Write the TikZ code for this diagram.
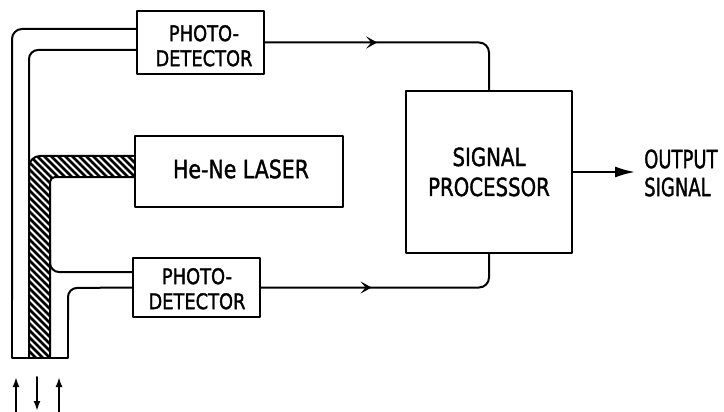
\documentclass[tikz,border=0pt]{standalone}
\usepackage{fontspec}
\newfontfamily\lblfont[FakeBold=1.6]{DejaVu Sans}
\usetikzlibrary{arrows.meta,decorations.markings}
\newcommand\cnd[2]{\scalebox{#1}[1]{#2}}
\tikzset{
  ln/.style={line width=2pt, line cap=round, line join=round},
  boxnode/.style={ln, draw, rectangle, inner sep=0pt},
  txt/.style={inner sep=0pt, font=\lblfont},
  conn/.style={ln, rounded corners=10pt},
  midarrow/.style={postaction={decorate}, decoration={markings,
     mark=at position #1 with {\arrow{Stealth[length=11pt,width=12pt,inset=5pt]}}}},
  iotip/.style={ln, -{Latex[length=10pt,width=7pt]}}
}
\begin{document}
\begin{tikzpicture}[x=1pt,y=-1pt]
\useasboundingbox (0,0) rectangle (724,412);
% boxes
\node[boxnode, minimum width=127pt, minimum height=63pt] (pd1) at (200.5,42.5) {};
\node[boxnode, minimum width=127pt, minimum height=59pt] (pd2) at (196.5,287.5) {};
\node[boxnode, minimum width=208pt, minimum height=71pt] (laser) at (239,171.5) {};
\node[boxnode, minimum width=166pt, minimum height=162pt] (sp) at (489,172) {};
% texts
\node[txt] (pd1t) at (204,48.6) {\fontsize{21.5}{25}\selectfont\cnd{0.83}{\begin{tabular}{@{}c@{}}PHOTO-\\DETECTOR\end{tabular}}};
\node[txt] (pd2t) at (197,291.6) {\fontsize{21.5}{25}\selectfont\cnd{0.83}{\begin{tabular}{@{}c@{}}PHOTO-\\DETECTOR\end{tabular}}};
\node[txt] (lasert) at (241,169) {\fontsize{25}{30}\selectfont\cnd{0.82}{He-Ne LASER}};
\node[txt] (spt) at (489,175) {\fontsize{25}{30}\selectfont\cnd{0.79}{\begin{tabular}{@{}c@{}}SIGNAL\\PROCESSOR\end{tabular}}};
\node[txt, anchor=west] (outt) at (644,176.5) {\fontsize{25}{28}\selectfont\cnd{0.72}{\begin{tabular}{@{}l@{}}OUTPUT\\SIGNAL\end{tabular}}};
% hatched fibre to laser
\begin{scope}
  \clip (29,358) [rounded corners=11pt] -- (29,156) [sharp corners] -- ([yshift=15.5pt]laser.west)
        -- ([yshift=-5.5pt]laser.west) [rounded corners=5pt] -- (50,177) [sharp corners] -- (50,358) -- cycle;
  \foreach \s in {-200,-193,...,140}
    \draw[line width=2.8pt] (\s,150) -- ++(230,230);
\end{scope}
\draw[ln] (29,358) [rounded corners=11pt] -- (29,156) [sharp corners] -- ([yshift=15.5pt]laser.west);
\draw[ln] ([yshift=-5.5pt]laser.west) [rounded corners=5pt] -- (50,177) [sharp corners] -- (50,358);
% top fibre
\draw[ln, rounded corners=10pt] ([yshift=13.5pt]pd1.west) -- (12,29) -- (12,300);
\draw[ln] (12,300) -- (12,358) -- (68,358) -- (68,320);
\draw[ln, rounded corners=9pt] ([yshift=-7.5pt]pd1.west) -- (29,50) -- (29,200);
% bottom fibre
\draw[ln, rounded corners=9pt] ([yshift=15.5pt]pd2.west) -- (50,272) -- (50,250);
\draw[ln, rounded corners=9pt] (68,320) -- (68,288) -- (pd2.west);
% signal connectors
\draw[conn, midarrow=0.42] (pd1.east) -| (sp.north);
\draw[conn, midarrow=0.43] (pd2.east) -| (sp.south);
% output
\coordinate (outtip) at ([xshift=62pt]sp.east);
\draw[ln, -{Latex[length=20pt,width=11pt]}] (sp.east) -- (outtip);
% input / output arrows at bottom
\coordinate (a1b) at (16,412); \coordinate (a1t) at (16,377);
\coordinate (a2t) at (37,377); \coordinate (a2b) at (37,411);
\coordinate (a3b) at (59,412); \coordinate (a3t) at (59,377);
\draw[iotip] (a1b) -- (a1t);
\draw[iotip] (a2t) -- (a2b);
\draw[iotip] (a3b) -- (a3t);
\end{tikzpicture}
\end{document}
